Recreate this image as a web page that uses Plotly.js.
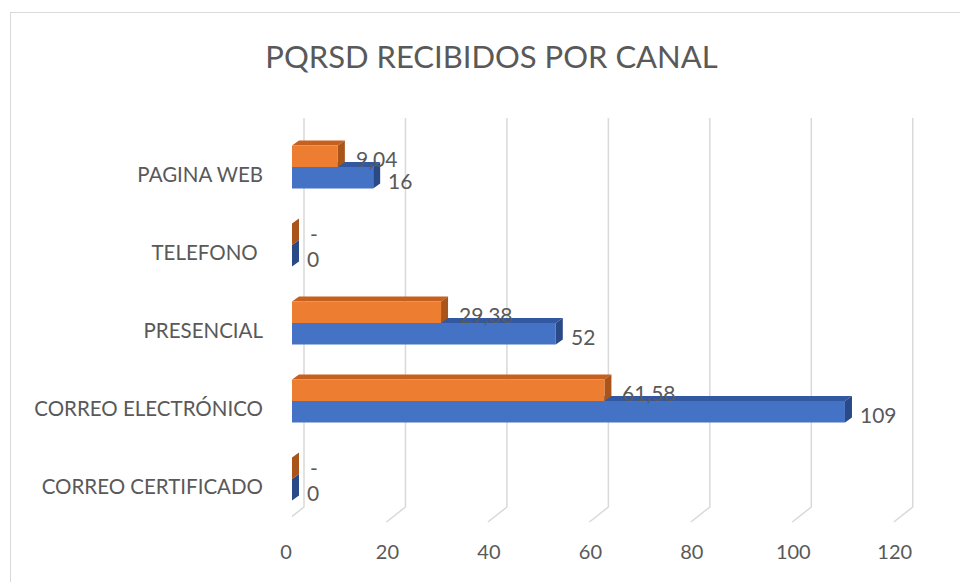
<!DOCTYPE html>
<html>
<head>
<meta charset="utf-8">
<script src="https://cdn.plot.ly/plotly-3.0.1.min.js"></script>
<style>
  body { margin: 0; background: #fff; }
  #frame { position: absolute; left: 10px; top: 12px; width: 980px; height: 600px; border: 1.5px solid #d9d9d9; }
  #box { position: absolute; left: 0; top: 0; width: 960px; height: 582px; }
</style>
</head>
<body>
<div id="frame"></div>
<div id="box"></div>
<script>
'use strict'

var canales = ['PAGINA WEB', 'TELEFONO\u00a0', 'PRESENCIAL', 'CORREO ELECTRÓNICO', 'CORREO CERTIFICADO'];
var porcentaje = [9.04, 0, 29.38, 61.58, 0];
var recibidos = [16, 0, 52, 109, 0];
var xTicks = [0, 20, 40, 60, 80, 100, 120];

// layout geometry (pixels)
var W = 960, H = 582;
var mL = 292, mR = 44, mT = 118, mB = 60;
var xMax = 123;
var yTop = -0.628, yBottom = 4.551;
var bargap = 0.45;

var xScale = (W - mL - mR) / xMax;
var yScale = (H - mT - mB) / (yBottom - yTop);
var depthX = 7 / xScale;      // 3d side depth
var depthY = 5 / yScale;      // 3d top depth
var backOff = 12 / xScale;    // back wall grid shift
var frontOff = -7 / xScale;   // floor front shift
var floorY = 15 / (H - mT - mB);

var pos = canales.map(function(c, i){ return i; });
var barW = (1 - bargap) / 2;

function fmt(v){
    return v === 0 ? '-' : v.toFixed(2).replace('.', ',');
}

var orangeTrace = {
    type: 'bar',
    orientation: 'h',
    name: '%',
    x: porcentaje,
    y: pos,
    marker: {color: '#ed7d31'},
    hoverinfo: 'x'
};

var blueTrace = {
    type: 'bar',
    orientation: 'h',
    name: 'Recibidos',
    x: recibidos,
    y: pos,
    marker: {color: '#4472c4'},
    hoverinfo: 'x'
};

var shapes = [];

// grid lines on back wall + floor
xTicks.forEach(function(t){
    shapes.push({
        type: 'path', xref: 'x', yref: 'paper', layer: 'below',
        path: 'M' + (t + backOff) + ',1 L' + (t + backOff) + ',' + floorY + ' L' + (t + frontOff) + ',0',
        line: {color: '#d9d9d9', width: 1.5}
    });
});

function face(pts, color){
    var p = 'M' + pts.map(function(q){ return q[0] + ',' + q[1]; }).join(' L') + ' Z';
    shapes.push({type: 'path', xref: 'x', yref: 'y', layer: 'between', path: p,
        fillcolor: color, line: {width: 0}});
}

// blue faces first, then orange ones in front
pos.forEach(function(i){
    var v = recibidos[i];
    var top = i, bot = i + barW;
    face([[0, top], [v, top], [v + depthX, top - depthY], [depthX, top - depthY]], '#3358a2');
    face([[v, top], [v + depthX, top - depthY], [v + depthX, bot - depthY], [v, bot]], '#2a4a87');
});
pos.forEach(function(i){
    var v = porcentaje[i];
    var top = i - barW, bot = i;
    face([[0, top], [v, top], [v + depthX, top - depthY], [depthX, top - depthY]], '#c6601f');
    face([[v, top], [v + depthX, top - depthY], [v + depthX, bot - depthY], [v, bot]], '#a9541a');
});

var annotations = [];
pos.forEach(function(i){
    annotations.push({
        x: porcentaje[i], y: i - barW / 2, xref: 'x', yref: 'y',
        text: fmt(porcentaje[i]), showarrow: false,
        xanchor: 'left', xshift: 16, yshift: porcentaje[i] === 0 ? 1 : -2,
        font: {family: 'Lato', size: 21, color: '#595959'}
    });
    annotations.push({
        x: recibidos[i], y: i + barW / 2, xref: 'x', yref: 'y',
        text: String(recibidos[i]), showarrow: false,
        xanchor: 'left', xshift: 13, yshift: -3,
        font: {family: 'Lato', size: 21, color: '#595959'}
    });
});

var layout = {
    width: W,
    height: H,
    margin: {l: mL, r: mR, t: mT, b: mB, pad: 0},
    paper_bgcolor: 'rgba(0,0,0,0)',
    plot_bgcolor: 'rgba(0,0,0,0)',
    showlegend: false,
    barmode: 'group',
    bargap: bargap,
    bargroupgap: 0,
    font: {family: 'Lato', color: '#595959'},
    title: {
        text: 'PQRSD RECIBIDOS POR CANAL',
        xref: 'container', yref: 'container',
        x: 0.512, y: 0.902, xanchor: 'center', yanchor: 'middle',
        font: {family: 'Lato', size: 31, color: '#595959'}
    },
    xaxis: {
        range: [0, xMax],
        tickvals: xTicks,
        showgrid: false,
        zeroline: false,
        showline: false,
        ticks: '',
        ticklabelstandoff: 16,
        ticklabelshift: -6,
        tickfont: {family: 'Lato', size: 20, color: '#595959'}
    },
    yaxis: {
        range: [yBottom, yTop],
        tickvals: pos,
        ticktext: canales,
        showgrid: false,
        zeroline: false,
        showline: false,
        ticks: '',
        ticklabelstandoff: 28,
        ticklabelshift: -8,
        tickfont: {family: 'Lato', size: 20.5, color: '#595959'}
    },
    shapes: shapes,
    annotations: annotations
};

Plotly.newPlot('box', [orangeTrace, blueTrace], layout, {displayModeBar: false, staticPlot: true});
</script>
</body>
</html>
